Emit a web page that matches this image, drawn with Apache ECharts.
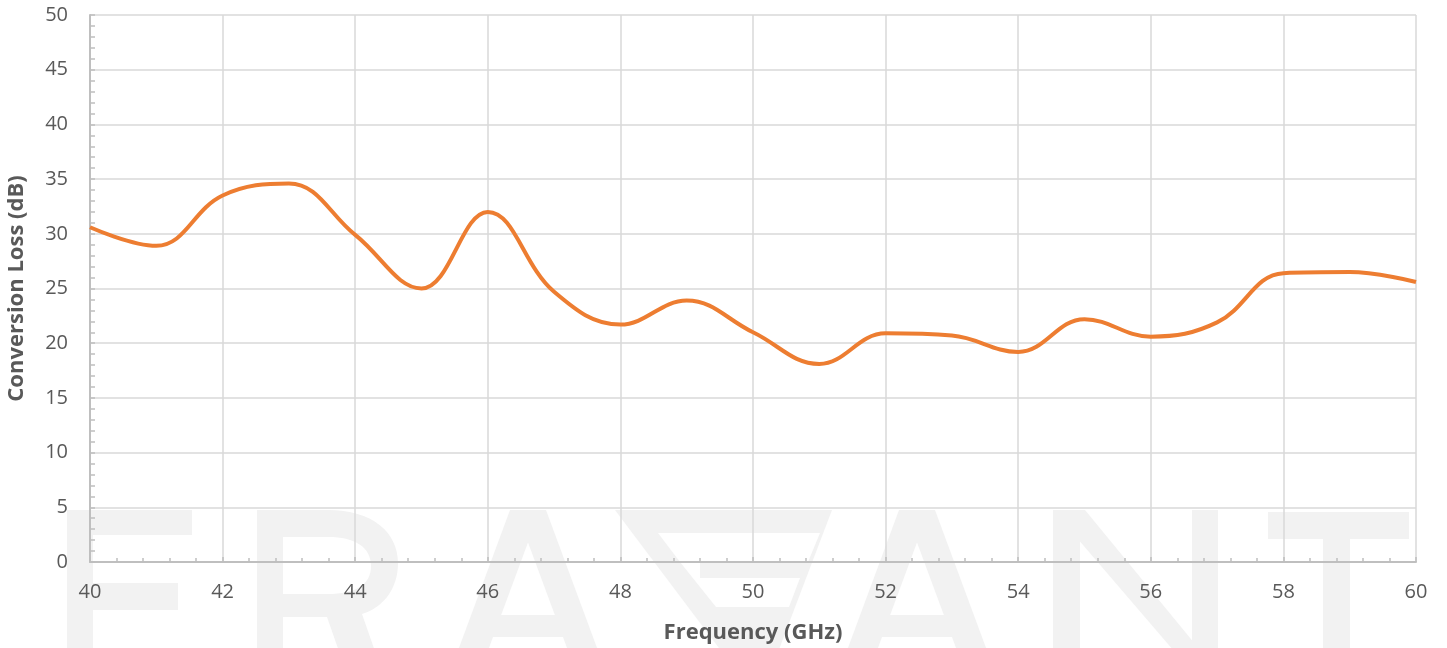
<!DOCTYPE html>
<html>
<head>
<meta charset="utf-8">
<script src="https://cdn.jsdelivr.net/npm/echarts@6/dist/echarts.min.js"></script>
<style>
html, body { margin: 0; padding: 0; background: #fff; }
#chart { width: 1447px; height: 648px; }
</style>
</head>
<body>
<div id="chart"></div>
<script>
// frequency points (GHz) and conversion loss
var freq = [40, 41, 42, 43, 44, 45, 46, 47, 48, 49, 50, 51, 52, 53, 54, 55, 56, 57, 58, 59, 60];
var loss = [30.6, 28.9, 33.5, 34.6, 29.9, 25.0, 32.0, 24.7, 21.7, 23.9, 21.0, 18.1, 20.9, 20.7, 19.2, 22.2, 20.6, 21.9, 26.4, 26.5, 25.6];

var xName = "Frequency (GHz)";
var yName = "Conversion Loss (dB)";

var gridColor = "#d9d9d9";
var axisColor = "#bfbfbf";
var textColor = "#595959";
var wmColor = "#f2f2f2";

var points = [];
for (var i = 0; i < freq.length; i++) {
	points.push([freq[i], loss[i]]);
}

// R of the logo needs a hole, so register it as a path shape
echarts.graphic.registerShape("wmLetterR", echarts.graphic.extendPath(
	"M257,510 L328,510 C372,510 398,532 398,563 C398,590 382,608 362,614 L392,700 L356,700 L327,617 L283,617 L283,700 L257,700 Z " +
	"M283,537 L283,594 L328,594 C355,594 371,585 371,566 C371,547 355,537 328,537 Z", {}));

// faint logo lettering behind the plot (decoration only)
function wmShape(type, shape, fill) {
	return { type: type, z: -10, silent: true, shape: shape, style: { fill: fill || wmColor } };
}
function wmA(cx) {
	var s = 0.37, w = 30, top = 510, bot = 700;
	var h = bot - top;
	return [
		wmShape("polygon", { points: [[cx - 18, top], [cx - 18 + w, top], [cx - 18 + w - s * h, bot], [cx - 18 - s * h, bot]] }),
		wmShape("polygon", { points: [[cx + 18 - w, top], [cx + 18, top], [cx + 18 + s * h, bot], [cx + 18 - w + s * h, bot]] }),
		wmShape("rect", { x: cx - 46, y: 615, width: 92, height: 22 })
	];
}
var watermark = [].concat(
	// F
	wmShape("rect", { x: 67, y: 510, width: 26, height: 190 }),
	wmShape("rect", { x: 67, y: 510, width: 125, height: 25 }),
	wmShape("rect", { x: 67, y: 583, width: 111, height: 27 }),
	// R
	{ type: "wmLetterR", z: -10, silent: true, style: { fill: wmColor } },
	wmA(528),
	// stylised glyph
	wmShape("polygon", { points: [[615, 510], [832, 510], [775, 660], [728, 660]] }),
	wmShape("polygon", { points: [[658, 533], [820, 533], [808, 562], [680, 562]] }, "#fff"),
	wmShape("polygon", { points: [[680, 562], [700, 562], [700, 578], [800, 578], [789, 607], [716, 607]] }, "#fff"),
	wmA(917),
	// N
	wmShape("rect", { x: 1053, y: 510, width: 27, height: 190 }),
	wmShape("rect", { x: 1192, y: 510, width: 26, height: 190 }),
	wmShape("polygon", { points: [[1053, 510], [1085, 510], [1218, 672], [1192, 672]] }),
	// T
	wmShape("rect", { x: 1268, y: 512, width: 141, height: 27 }),
	wmShape("rect", { x: 1323, y: 512, width: 27, height: 190 })
);

var option = {
	backgroundColor: "#fff",
	animation: false,
	graphic: watermark,
	grid: { left: 90, right: 31, top: 15, bottom: 86, containLabel: false, outerBoundsMode: "none" },
	xAxis: {
		type: "value", min: 40, max: 60, interval: 2,
		name: xName, nameLocation: "middle", nameGap: 60,
		nameTextStyle: { color: textColor, fontSize: 22, fontWeight: "bold", fontFamily: "Open Sans" },
		axisLine: { show: true, lineStyle: { color: axisColor, width: 2 } },
		axisTick: { show: true, inside: true, length: 5, lineStyle: { color: axisColor, width: 1.5 } },
		minorTick: { show: true, splitNumber: 5, length: 4, lineStyle: { color: axisColor, width: 1.5 } },
		splitLine: { show: true, lineStyle: { color: gridColor, width: 1.5 } },
		axisLabel: { color: textColor, fontSize: 20, fontFamily: "Open Sans", margin: 20 }
	},
	yAxis: {
		type: "value", min: 0, max: 50, interval: 5,
		name: yName, nameLocation: "middle", nameGap: 62, nameRotate: 90,
		nameTextStyle: { color: textColor, fontSize: 22, fontWeight: "bold", fontFamily: "Open Sans" },
		axisLine: { show: true, lineStyle: { color: axisColor, width: 2 } },
		axisTick: { show: true, inside: true, length: 5, lineStyle: { color: axisColor, width: 1.5 } },
		minorTick: { show: true, splitNumber: 5, length: 5, lineStyle: { color: axisColor, width: 1.5 } },
		splitLine: { show: true, lineStyle: { color: gridColor, width: 1.5 } },
		axisLabel: { color: textColor, fontSize: 20, fontFamily: "Open Sans", margin: 22 }
	},
	series: [{
		type: "line",
		data: points,
		smooth: 0.4,
		showSymbol: false,
		lineStyle: { color: "#ed7d31", width: 4 },
		itemStyle: { color: "#ed7d31" }
	}]
};

var myChart = echarts.init(document.getElementById("chart"));
myChart.setOption(option);
</script>
</body>
</html>
